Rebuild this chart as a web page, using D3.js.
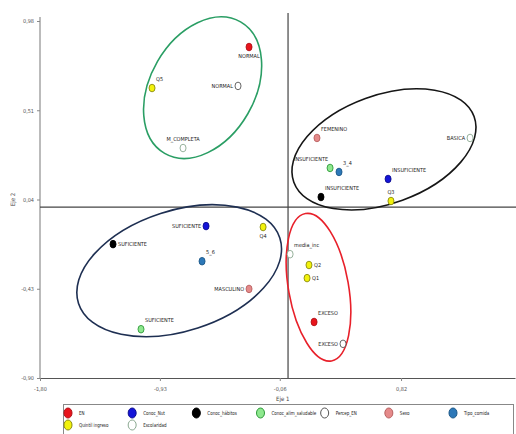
<!DOCTYPE html>
<html>
<head>
<meta charset="utf-8">
<script src="https://cdn.jsdelivr.net/npm/d3@7/dist/d3.min.js"></script>
<style>
  html, body { margin: 0; padding: 0; background: #fff; }
  svg { display: block; }
  text { font-family: "Liberation Sans Narrow", "DejaVu Sans Condensed", "Liberation Sans", sans-serif; }
</style>
</head>
<body>
<svg id="chart" width="516" height="434"></svg>
<script>
// Correspondence analysis map: category points on the first two axes
const variables = ["EN", "Conoc_Nut", "Conoc_hábitos", "Conoc_alim_saludable", "Percep_EN",
                   "Sexo", "Tipo_comida", "Quintil ingreso", "Escolaridad"];
const variableFill = ["#e8141c", "#1414d8", "#000000", "#8ee88e", "#ffffff",
                      "#e58a8a", "#2d78b8", "#f2f20c", "#ffffff"];
const variableStroke = ["#b01016", "#0c0c90", "#000000", "#2f9a3a", "#555555",
                        "#b86060", "#1c5888", "#8a8a10", "#8aa890"];

const pointVar   = [0, 4, 7, 8, 5, 3, 6, 1, 2, 7, 8, 1, 2, 6, 5, 3, 7, 8, 7, 7, 0, 4];
const pointLabel = ["NORMAL", "NORMAL", "Q5", "M_COMPLETA", "FEMENINO", "INSUFICIENTE", "3_4",
                    "INSUFICIENTE", "INSUFICIENTE", "Q3", "BASICA", "SUFICIENTE", "SUFICIENTE",
                    "5_6", "MASCULINO", "SUFICIENTE", "Q4", "media_inc", "Q2", "Q1", "EXCESO", "EXCESO"];
const eje1 = [-0.283, -0.363, -0.987, -0.762, 0.210, 0.305, 0.370, 0.726, 0.239, 0.747, 1.321,
              -0.595, -1.270, -0.624, -0.283, -1.067, -0.181, 0.015, 0.152, 0.138, 0.189, 0.399];
const eje2 = [0.843, 0.638, 0.627, 0.311, 0.364, 0.206, 0.185, 0.148, 0.053, 0.032, 0.364,
              -0.100, -0.195, -0.285, -0.431, -0.643, -0.105, -0.248, -0.305, -0.374, -0.605, -0.720];
// label side relative to its point
const labelSide = ["b", "l", "tr", "t", "tr", "tl", "tr", "tr", "tr", "t", "l",
                   "l", "r", "tr", "l", "tr", "b", "tr", "r", "r", "tr", "l"];

// grouping ellipses: centre (axis units), semi-axes (axis units), rotation (deg)
const groupCx    = [-0.620, 0.696, -0.790, 0.221];
const groupCy    = [0.629, 0.304, -0.335, -0.422];
const groupRx    = [0.551, 0.696, 0.768, 0.543];
const groupRy    = [0.275, 0.285, 0.317, 0.158];
const groupAngle = [-60, -20, -18, 80];
const groupColor = ["#2a9e64", "#161616", "#1e2f52", "#e8202a"];

const xTicks = [-1.80, -0.93, -0.06, 0.82];
const yTicks = [0.98, 0.51, 0.04, -0.43, -0.90];

const svg = d3.select("#chart");
const fmt = v => d3.format(".2f")(v).replace("−", "-").replace(".", ",");

const x = d3.scaleLinear().domain([-1.80, 1.647]).range([40, 515]);
const y = d3.scaleLinear().domain([-0.90, 0.98]).range([378, 21]);
const kx = x(1) - x(0), ky = y(0) - y(1);

// axes
const xAxis = svg.append("g").attr("transform", `translate(0,${y(-0.90)})`)
  .call(d3.axisBottom(x).tickValues(xTicks).tickFormat(fmt).tickSize(3).tickSizeOuter(0));
const yAxis = svg.append("g").attr("transform", `translate(${x(-1.80)},0)`)
  .call(d3.axisLeft(y).tickValues(yTicks).tickFormat(fmt).tickSize(3).tickSizeOuter(0));
xAxis.select(".domain").attr("stroke", "#555").attr("stroke-width", 1.2);
yAxis.select(".domain").attr("stroke", "#aaa").attr("stroke-width", 1.6)
  .attr("d", `M0,${y(-0.90)}V17`);
[xAxis, yAxis].forEach(a => {
  a.selectAll(".tick line").attr("stroke", "#888");
  a.selectAll(".tick text").attr("fill", "#555").style("font-size", "5.5px");
});
xAxis.selectAll(".tick text").attr("dy", "1.2em");

svg.append("text").attr("x", x(-0.06) + 3).attr("y", 401).attr("text-anchor", "middle")
  .attr("fill", "#444").style("font-size", "6px").text("Eje 1");
svg.append("text").attr("transform", `translate(15,${y(0.04)}) rotate(-90)`)
  .attr("text-anchor", "middle").attr("fill", "#444").style("font-size", "6px").text("Eje 2");

// reference lines through the origin
svg.append("line").attr("x1", x(-1.80)).attr("x2", 516).attr("y1", y(0)).attr("y2", y(0))
  .attr("stroke", "#444").attr("stroke-width", 1.2);
svg.append("line").attr("x1", x(0)).attr("x2", x(0)).attr("y1", 13).attr("y2", y(-0.90))
  .attr("stroke", "#444").attr("stroke-width", 1.2);

// grouping ellipses
svg.append("g").selectAll("ellipse").data(groupCx).join("ellipse")
  .attr("transform", (d, i) => `translate(${x(groupCx[i])},${y(groupCy[i])}) rotate(${groupAngle[i]})`)
  .attr("rx", (d, i) => groupRx[i] * kx)
  .attr("ry", (d, i) => groupRy[i] * ky)
  .attr("fill", "none")
  .attr("stroke", (d, i) => groupColor[i])
  .attr("stroke-width", 1.6);

// category points
const pts = d3.range(eje1.length);
svg.append("g").selectAll("ellipse").data(pts).join("ellipse")
  .attr("cx", i => x(eje1[i])).attr("cy", i => y(eje2[i]))
  .attr("rx", 3).attr("ry", 3.8)
  .attr("fill", i => variableFill[pointVar[i]])
  .attr("stroke", i => variableStroke[pointVar[i]])
  .attr("stroke-width", 0.9);

const off = {
  r:  [5, 2, "start"], l: [-5, 2, "end"], t: [0, -7, "middle"], b: [0, 11, "middle"],
  tr: [4, -7, "start"], tl: [-2, -7, "end"]
};
svg.append("g").selectAll("text").data(pts).join("text")
  .attr("x", i => x(eje1[i]) + off[labelSide[i]][0])
  .attr("y", i => y(eje2[i]) + off[labelSide[i]][1])
  .attr("text-anchor", i => off[labelSide[i]][2])
  .attr("fill", "#222")
  .style("font-size", "5.5px")
  .text(i => pointLabel[i]);

// legend
const lg = svg.append("g");
lg.append("rect").attr("x", 63.5).attr("y", 404.5).attr("width", 450).attr("height", 40)
  .attr("fill", "#fff").attr("stroke", "#888").attr("stroke-width", 1);
const legX = d3.scalePoint().domain(d3.range(7)).range([68, 453]);
const item = lg.selectAll("g").data(variables).join("g")
  .attr("transform", (d, i) => `translate(${legX(i % 7)},${i < 7 ? 413 : 425})`);
item.append("ellipse").attr("rx", 4).attr("ry", 5)
  .attr("fill", (d, i) => variableFill[i])
  .attr("stroke", (d, i) => variableStroke[i])
  .attr("stroke-width", 1);
item.append("text").attr("transform", "translate(11,2) scale(0.82,1)").attr("fill", "#222")
  .style("font-size", "5.5px").text(d => d);
</script>
</body>
</html>
